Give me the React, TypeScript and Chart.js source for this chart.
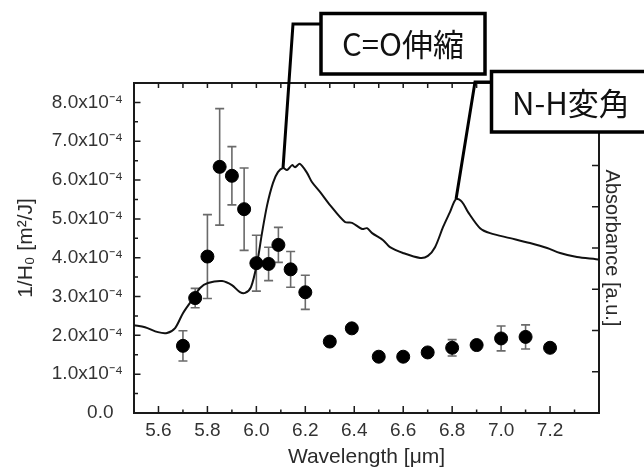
import React, { useEffect, useRef } from "react";
import { Chart, registerables } from "chart.js";

Chart.register(...registerables);

// Scatter data: 1/H0 [m^2/J] vs wavelength [um]
const wavelengths = [5.70, 5.75, 5.80, 5.85, 5.90, 5.95, 6.00, 6.05, 6.09, 6.14, 6.20, 6.30, 6.39, 6.50, 6.60, 6.70, 6.80, 6.90, 7.00, 7.10, 7.20];
const inverseH0 = [1.73e-4, 2.96e-4, 4.03e-4, 6.34e-4, 6.11e-4, 5.25e-4, 3.86e-4, 3.84e-4, 4.33e-4, 3.70e-4, 3.11e-4, 1.84e-4, 2.18e-4, 1.45e-4, 1.45e-4, 1.56e-4, 1.68e-4, 1.75e-4, 1.92e-4, 1.96e-4, 1.68e-4];
const inverseH0Err = [0.39e-4, 0.25e-4, 1.08e-4, 1.50e-4, 0.75e-4, 1.06e-4, 0.72e-4, 0.43e-4, 0.45e-4, 0.46e-4, 0.44e-4, 0, 0, 0, 0, 0, 0.21e-4, 0, 0.32e-4, 0.31e-4, 0];

// Absorbance spectrum (arbitrary units, right axis 0..8)
const spectrumWavelength = [5.50, 5.545, 5.598, 5.635, 5.668, 5.700, 5.737, 5.770, 5.802, 5.860, 5.900, 5.933, 5.954, 5.978, 6.003, 6.023, 6.044, 6.068, 6.088, 6.109, 6.125, 6.146, 6.158, 6.178, 6.207, 6.227, 6.260, 6.301, 6.362, 6.391, 6.432, 6.452, 6.473, 6.518, 6.546, 6.599, 6.669, 6.701, 6.730, 6.763, 6.791, 6.816, 6.840, 6.865, 6.914, 6.955, 7.037, 7.118, 7.188, 7.241, 7.310, 7.388, 7.40];
const absorbance = [2.13, 2.08, 1.96, 1.94, 2.06, 2.42, 2.74, 3.03, 3.15, 3.20, 3.10, 2.93, 2.91, 3.05, 3.64, 4.36, 5.04, 5.58, 5.84, 5.94, 5.89, 6.01, 5.96, 6.04, 5.82, 5.60, 5.36, 5.04, 4.63, 4.61, 4.46, 4.48, 4.36, 4.19, 4.02, 3.88, 3.76, 3.81, 4.02, 4.51, 4.87, 5.19, 5.12, 4.87, 4.48, 4.36, 4.24, 4.12, 4.00, 3.88, 3.78, 3.73, 3.72];

// Tick labels shown on the x axis
const xTickLabels = ["5.6", "5.8", "6.0", "6.2", "6.4", "6.6", "6.8", "7.0", "7.2"];

// Annotations (anchored on spectrum peaks)
const coLabel = "C=O伸縮";
const coAnchor = { x: 6.109, y: 5.94 };
const nhLabel = "N-H変角";
const nhAnchor = { x: 6.816, y: 5.19 };

const xTitle = "Wavelength [μm]";
const yTitle = "1/H₀ [m²/J]";
const y2Title = "Absorbance [a.u.]";

const FONT = '"Liberation Sans", Arial, sans-serif';
const CJK = '"Noto Sans CJK JP", "Noto Sans", sans-serif';

const framePlugin = {
  id: "frame",
  beforeDatasetsDraw(chart: any) {
    const { ctx, chartArea: a, scales } = chart;
    const x = scales.x, y = scales.y, y2 = scales.y2;
    ctx.save();
    ctx.strokeStyle = "#1a1a1a";
    ctx.lineWidth = 2;
    ctx.strokeRect(a.left, a.top, a.right - a.left, a.bottom - a.top);
    ctx.lineWidth = 1.5;
    ctx.beginPath();
    // x ticks bottom & top (every 0.1)
    for (let k = 0; ; k++) {
      const v = Math.round((x.min + k * 0.1) * 10) / 10;
      if (v > x.max + 1e-9) break;
      const px = x.getPixelForValue(v);
      const major = Math.round(v * 10) % 2 === 0;
      const lb = major ? 7 : 3.5;
      ctx.moveTo(px, a.bottom);
      ctx.lineTo(px, a.bottom - lb);
      ctx.moveTo(px, a.top);
      ctx.lineTo(px, a.top + 5);
    }
    // left y ticks every 0.5e-4
    for (let k = 1; ; k++) {
      const v = k * 0.5e-4;
      if (v > y.max + 1e-12) break;
      const py = y.getPixelForValue(v);
      const major = k % 2 === 0;
      ctx.moveTo(a.left, py);
      ctx.lineTo(a.left + (major ? 6.5 : 4), py);
    }
    // right y2 ticks
    for (let k = 1; k < 8; k++) {
      const py = y2.getPixelForValue(k);
      ctx.moveTo(a.right, py);
      ctx.lineTo(a.right - 7, py);
    }
    ctx.stroke();

    // error bars
    ctx.strokeStyle = "#6a6a6a";
    ctx.lineWidth = 1.6;
    ctx.beginPath();
    for (let i = 0; i < wavelengths.length; i++) {
      const e = inverseH0Err[i];
      if (!e) continue;
      const px = x.getPixelForValue(wavelengths[i]);
      const pt = y.getPixelForValue(inverseH0[i] + e);
      const pb = y.getPixelForValue(inverseH0[i] - e);
      ctx.moveTo(px, pt);
      ctx.lineTo(px, pb);
      ctx.moveTo(px - 4.5, pt);
      ctx.lineTo(px + 4.5, pt);
      ctx.moveTo(px - 4.5, pb);
      ctx.lineTo(px + 4.5, pb);
    }
    ctx.stroke();
    ctx.restore();
  },
  afterDraw(chart: any) {
    const { ctx, scales } = chart;
    const x = scales.x, y2 = scales.y2;
    ctx.save();
    ctx.strokeStyle = "#000";
    ctx.lineJoin = "miter";
    // C=O connector
    ctx.lineWidth = 3;
    ctx.beginPath();
    ctx.moveTo(x.getPixelForValue(coAnchor.x), y2.getPixelForValue(coAnchor.y));
    ctx.lineTo(293, 24);
    ctx.lineTo(322, 24);
    ctx.stroke();
    // N-H connector
    ctx.beginPath();
    ctx.moveTo(x.getPixelForValue(nhAnchor.x), y2.getPixelForValue(nhAnchor.y));
    ctx.lineTo(475, 82);
    ctx.lineTo(492, 82);
    ctx.stroke();
    // boxes
    ctx.lineWidth = 3.5;
    ctx.fillStyle = "#fff";
    ctx.fillRect(321, 13.5, 164, 60.5);
    ctx.strokeRect(321, 13.5, 164, 60.5);
    ctx.fillRect(491.5, 71.5, 170, 60.5);
    ctx.strokeRect(491.5, 71.5, 170, 60.5);
    ctx.fillStyle = "#111";
    ctx.font = `31px ${CJK}`;
    ctx.textBaseline = "middle";
    ctx.textAlign = "center";
    ctx.fillText(coLabel, 403, 44);
    ctx.textAlign = "left";
    ctx.fillText(nhLabel, 512, 103);
    ctx.restore();
  },
};

export default function App() {
  const ref = useRef<HTMLCanvasElement | null>(null);
  useEffect(() => {
    document.body.style.margin = "0";
    const canvas = ref.current;
    if (!canvas) return;
    const chart = new Chart(canvas, {
      type: "scatter",
      data: {
        datasets: [
          {
            label: "1/H0",
            data: wavelengths.map((w, i) => ({ x: w, y: inverseH0[i] })),
            yAxisID: "y",
            backgroundColor: "#000",
            borderColor: "#000",
            pointRadius: 6.5,
            pointHoverRadius: 6.5,
            order: 0,
          },
          {
            label: "Absorbance",
            data: spectrumWavelength.map((w, i) => ({ x: w, y: absorbance[i] })),
            yAxisID: "y2",
            showLine: true,
            borderColor: "#111",
            borderWidth: 2,
            pointRadius: 0,
            tension: 0.3,
            order: 1,
          },
        ],
      },
      options: {
        responsive: false,
        animation: false,
        devicePixelRatio: 1,
        layout: { padding: { top: 83, left: 0, right: 0, bottom: 0 } },
        plugins: { legend: { display: false }, tooltip: { enabled: false } },
        scales: {
          x: {
            type: "linear",
            min: 5.5,
            max: 7.4,
            grid: { display: false, drawTicks: false },
            border: { display: false },
            afterBuildTicks: (s: any) => {
              s.ticks = xTickLabels.map((t) => ({ value: parseFloat(t) }));
            },
            ticks: {
              autoSkip: false,
              maxRotation: 0,
              padding: 6,
              color: "#333",
              font: { family: FONT, size: 19 },
              callback: (v: any) => Number(v).toFixed(1),
            },
            title: {
              display: true,
              text: xTitle,
              color: "#2a2a2a",
              font: { family: FONT, size: 21 },
              padding: { top: 0, bottom: 0 },
            },
            afterFit: (s: any) => { s.height = 57; },
          },
          y: {
            type: "linear",
            position: "left",
            min: 0,
            max: 8.5e-4,
            grid: { display: false, drawTicks: false },
            border: { display: false },
            ticks: {
              stepSize: 1e-4,
              includeBounds: false,
              autoSkip: false,
              padding: 11,
              color: "#333",
              font: { family: FONT, size: 19 },
              callback: (v: any) => {
                const n = Number(v) / 1e-4;
                if (n > 8.2) return "";
                if (Math.abs(n) < 1e-9) return "0.0\u2002";
                return n.toFixed(1) + "x10⁻⁴";
              },
            },
            title: {
              display: true,
              text: yTitle,
              color: "#2a2a2a",
              font: { family: FONT, size: 21 },
              padding: { top: 14, bottom: 0 },
            },
            afterFit: (s: any) => { s.width = 134; },
          },
          y2: {
            type: "linear",
            position: "right",
            min: 0,
            max: 8,
            grid: { display: false, drawTicks: false },
            border: { display: false },
            ticks: { display: false, stepSize: 1 },
            title: {
              display: true,
              text: y2Title,
              color: "#2a2a2a",
              font: { family: FONT, size: 20 },
              padding: { top: 20, bottom: 0 },
            },
            afterFit: (s: any) => { s.width = 45; },
          },
        },
      },
      plugins: [framePlugin],
    });
    return () => chart.destroy();
  }, []);
  return <canvas ref={ref} width={644} height={470} style={{ display: "block" }} />;
}
